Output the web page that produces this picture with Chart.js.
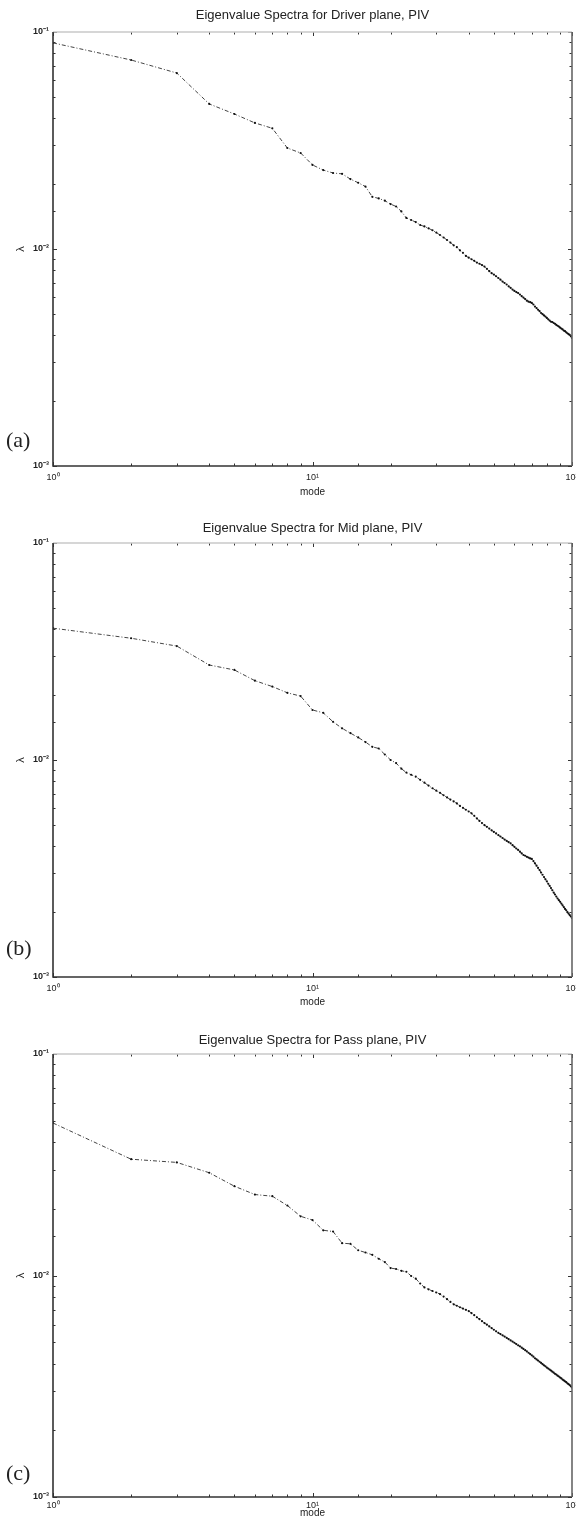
<!DOCTYPE html>
<html>
<head>
<meta charset="utf-8">
<script src="https://cdn.jsdelivr.net/npm/chart.js@4/dist/chart.umd.min.js"></script>
<style>
  body { margin: 0; background: #fff; }
  #page { position: relative; width: 576px; height: 1519px; overflow: hidden; }
  canvas { position: absolute; left: 0; }
  .tag { position: absolute; left: 6px; font-family: "Liberation Serif", "DejaVu Serif", serif; font-size: 22px; color: #222; }
</style>
</head>
<body>
<div id="page">
  <canvas id="driverChart" width="576" height="500" style="top:0px"></canvas>
  <canvas id="midChart" width="576" height="510" style="top:500px"></canvas>
  <canvas id="passChart" width="576" height="509" style="top:1010px"></canvas>
  <div class="tag" style="top:427px">(a)</div>
  <div class="tag" style="top:935px">(b)</div>
  <div class="tag" style="top:1460px">(c)</div>
</div>
<script>
// mode numbers 1..100
const modes = Array.from({ length: 100 }, (_, i) => i + 1);

const xTickLabels = ['10⁰', '10¹', '10²'];
const yTickLabels = ['10⁻³', '10⁻²', '10⁻¹'];

// eigenvalues
const driverValues = [
    0.0891, 0.0743, 0.0647, 0.0466, 0.0419, 0.0381, 0.0360, 0.0292, 0.0277, 0.0244,
    0.0231, 0.0224, 0.0222, 0.0210, 0.0202, 0.0194, 0.0174, 0.0171, 0.0167, 0.0161,
    0.0157, 0.0149, 0.0139, 0.0136, 0.0133, 0.0129, 0.0127, 0.01245, 0.0122, 0.0119,
    0.0116, 0.0113, 0.0110, 0.0107, 0.0104, 0.0102, 0.00986, 0.00960, 0.00929, 0.00912,
    0.00897, 0.00882, 0.00866, 0.00855, 0.00843, 0.00830, 0.00810, 0.00790, 0.00774, 0.00762,
    0.00749, 0.00735, 0.00722, 0.00708, 0.00697, 0.00686, 0.00673, 0.00662, 0.00650, 0.00641,
    0.00633, 0.00627, 0.00617, 0.00606, 0.00597, 0.00588, 0.00578, 0.00572, 0.00569, 0.00564,
    0.00555, 0.00543, 0.00534, 0.00525, 0.00517, 0.00507, 0.00501, 0.00494, 0.00488, 0.00481,
    0.00474, 0.00468, 0.00462, 0.00461, 0.00456, 0.00452, 0.00447, 0.00443, 0.00439, 0.00434,
    0.00430, 0.00426, 0.00421, 0.00418, 0.00413, 0.00409, 0.00405, 0.00402, 0.00396, 0.00389
];

const midValues = [
    0.0405, 0.0364, 0.0335, 0.0274, 0.0260, 0.0232, 0.0218, 0.0204, 0.0197, 0.0170,
    0.0165, 0.0150, 0.0140, 0.0133, 0.0127, 0.0121, 0.0115, 0.0113, 0.0106, 0.0100,
    0.00968, 0.00912, 0.00875, 0.00855, 0.00838, 0.00810, 0.00786, 0.00762, 0.00741, 0.00722,
    0.00706, 0.00688, 0.00672, 0.00657, 0.00644, 0.00631, 0.00614, 0.00602, 0.00590, 0.00579,
    0.00568, 0.00553, 0.00538, 0.00524, 0.00512, 0.00501, 0.00492, 0.00483, 0.00474, 0.00466,
    0.00459, 0.00451, 0.00444, 0.00437, 0.00430, 0.00424, 0.00418, 0.00413, 0.00405, 0.00398,
    0.00391, 0.00385, 0.00378, 0.00371, 0.00365, 0.00362, 0.00358, 0.00355, 0.00352, 0.00350,
    0.00342, 0.00334, 0.00326, 0.00318, 0.00311, 0.00303, 0.00296, 0.00289, 0.00282, 0.00276,
    0.00269, 0.00263, 0.00257, 0.00251, 0.00245, 0.00240, 0.00235, 0.00230, 0.00226, 0.00222,
    0.00218, 0.00214, 0.00210, 0.00206, 0.00203, 0.00199, 0.00196, 0.00193, 0.00190, 0.00187
];

const passValues = [
    0.0488, 0.0335, 0.0324, 0.0291, 0.0253, 0.0232, 0.0228, 0.0207, 0.0185, 0.0178,
    0.0160, 0.0158, 0.0140, 0.0139, 0.0130, 0.0127, 0.0124, 0.0119, 0.0115, 0.0108,
    0.0107, 0.0105, 0.0104, 0.00995, 0.00968, 0.00920, 0.00883, 0.00866, 0.00851, 0.00838,
    0.00824, 0.00803, 0.00782, 0.00760, 0.00741, 0.00730, 0.00719, 0.00709, 0.00700, 0.00691,
    0.00676, 0.00662, 0.00648, 0.00635, 0.00622, 0.00610, 0.00600, 0.00589, 0.00579, 0.00569,
    0.00560, 0.00551, 0.00544, 0.00537, 0.00530, 0.00523, 0.00516, 0.00509, 0.00503, 0.00497,
    0.00490, 0.00484, 0.00479, 0.00472, 0.00466, 0.00460, 0.00454, 0.00448, 0.00442, 0.00436,
    0.00430, 0.00423, 0.00418, 0.00413, 0.00408, 0.00403, 0.00398, 0.00393, 0.00389, 0.00384,
    0.00380, 0.00376, 0.00372, 0.00368, 0.00364, 0.00360, 0.00357, 0.00353, 0.00350, 0.00346,
    0.00343, 0.00339, 0.00336, 0.00333, 0.00330, 0.00326, 0.00323, 0.00320, 0.00316, 0.00312
];

function isDecade(v) {
    const e = Math.log10(v);
    return Math.abs(e - Math.round(e)) < 1e-6;
}

// box round the plot with small inward ticks, like the old matlab figures
const frameTicks = {
    id: 'frameTicks',
    afterDatasetsDraw(chart) {
        const { ctx, chartArea: a, scales: { x, y } } = chart;
        ctx.save();
        ctx.strokeStyle = '#333';
        ctx.lineWidth = 1;
        ctx.beginPath();
        x.ticks.forEach(t => {
            const px = Math.round(x.getPixelForValue(t.value)) + 0.5;
            const len = isDecade(t.value) ? 4 : 2.5;
            ctx.moveTo(px, a.bottom); ctx.lineTo(px, a.bottom - len);
            ctx.moveTo(px, a.top); ctx.lineTo(px, a.top + len);
        });
        y.ticks.forEach(t => {
            const py = Math.round(y.getPixelForValue(t.value)) + 0.5;
            const len = isDecade(t.value) ? 4 : 2.5;
            ctx.moveTo(a.left, py); ctx.lineTo(a.left + len, py);
            ctx.moveTo(a.right, py); ctx.lineTo(a.right - len, py);
        });
        ctx.stroke();

        ctx.lineWidth = 1.6;
        ctx.strokeStyle = '#c8c8c8';
        ctx.beginPath();
        ctx.moveTo(a.left, a.top); ctx.lineTo(a.right, a.top);
        ctx.stroke();
        ctx.strokeStyle = '#333';
        ctx.beginPath();
        ctx.moveTo(a.left, a.top); ctx.lineTo(a.left, a.bottom); ctx.lineTo(a.right, a.bottom);
        ctx.stroke();
        ctx.strokeStyle = '#666';
        ctx.beginPath();
        ctx.moveTo(a.right, a.top); ctx.lineTo(a.right, a.bottom);
        ctx.stroke();
        ctx.restore();
    }
};

function makeChart(id, values, titleText, lay) {
    const ctx = document.getElementById(id).getContext('2d');
    return new Chart(ctx, {
        type: 'line',
        data: {
            datasets: [{
                label: titleText,
                data: modes.map((m, i) => ({ x: m, y: values[i] })),
                borderColor: '#444',
                borderWidth: 1,
                borderDash: [4, 2, 1, 2],
                pointRadius: 1.1,
                pointBackgroundColor: '#111',
                pointBorderWidth: 0,
                tension: 0
            }]
        },
        options: {
            responsive: false,
            animation: false,
            devicePixelRatio: 1,
            layout: { autoPadding: false, padding: { left: 0, right: 4, top: 0, bottom: 0 } },
            plugins: {
                legend: { display: false },
                tooltip: { enabled: false },
                title: {
                    display: true,
                    text: titleText,
                    fullSize: false,
                    color: '#222',
                    font: { family: 'Liberation Sans', size: 13, weight: 'normal' },
                    padding: { top: lay.titleTop, bottom: lay.titleBottom }
                }
            },
            scales: {
                x: {
                    type: 'logarithmic',
                    min: 1,
                    max: 100,
                    grid: { display: false, drawTicks: false },
                    border: { display: false },
                    afterFit: scale => {
                        scale.height = lay.xHeight;
                        scale.paddingLeft = 0;
                        scale.paddingRight = 0;
                    },
                    ticks: {
                        autoSkip: false,
                        maxRotation: 0,
                        padding: lay.tickPad,
                        color: '#222',
                        font: { family: 'Liberation Sans', size: 9 },
                        callback: v => isDecade(v) ? xTickLabels[Math.round(Math.log10(v))] : ''
                    },
                    title: {
                        display: true,
                        text: 'mode',
                        color: '#222',
                        font: { family: 'Liberation Sans', size: 10 },
                        padding: { top: 0, bottom: lay.modeBottom }
                    }
                },
                y: {
                    type: 'logarithmic',
                    min: 0.001,
                    max: 0.1,
                    grid: { display: false, drawTicks: false },
                    border: { display: false },
                    afterFit: scale => {
                        scale.width = 53;
                        scale.paddingTop = 0;
                        scale.paddingBottom = 0;
                    },
                    ticks: {
                        autoSkip: false,
                        padding: 4,
                        color: '#222',
                        font: { family: 'Liberation Sans', size: 9, weight: 'bold' },
                        callback: v => isDecade(v) ? yTickLabels[Math.round(Math.log10(v)) + 3] : ''
                    },
                    title: {
                        display: true,
                        text: 'λ',
                        color: '#222',
                        font: { family: 'Liberation Sans', size: 11 },
                        padding: { top: 14, bottom: 0 }
                    }
                }
            }
        },
        plugins: [frameTicks]
    });
}

makeChart('driverChart', driverValues, 'Eigenvalue Spectra for Driver plane, PIV',
    { titleTop: 8, titleBottom: 8.4, xHeight: 34, tickPad: 6, modeBottom: 2 });
makeChart('midChart', midValues, 'Eigenvalue Spectra for Mid plane, PIV',
    { titleTop: 21, titleBottom: 6.4, xHeight: 33, tickPad: 6, modeBottom: 2 });
makeChart('passChart', passValues, 'Eigenvalue Spectra for Pass plane, PIV',
    { titleTop: 23, titleBottom: 5.4, xHeight: 22, tickPad: 3, modeBottom: 0 });
</script>
</body>
</html>
